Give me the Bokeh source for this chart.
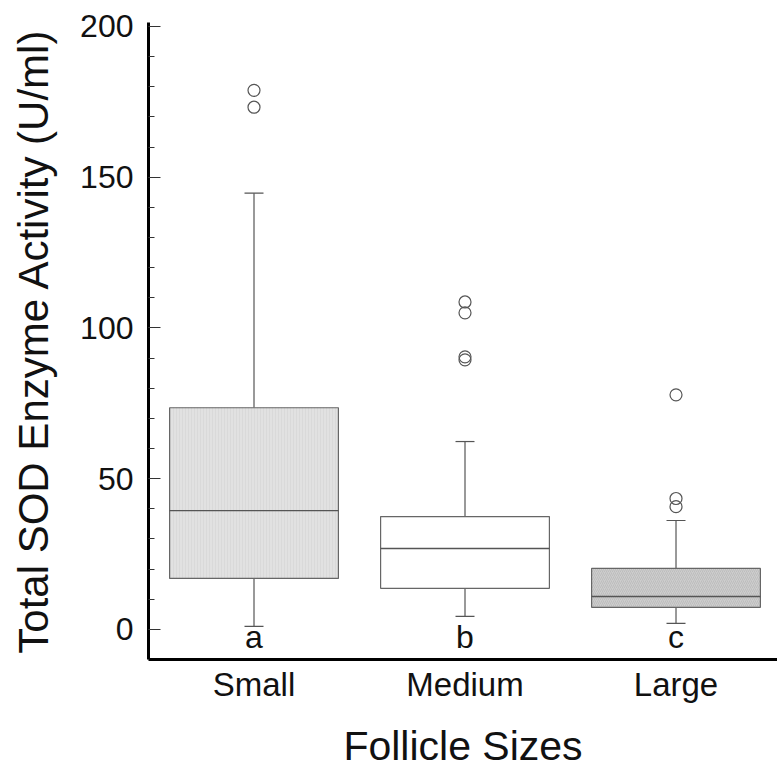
from bokeh.plotting import figure
from bokeh.models import Range1d, FixedTicker, ColumnDataSource
from bokeh.core.properties import value
from bokeh.embed import file_html
from bokeh.resources import INLINE

# ---- data ----
categories = ["Small", "Medium", "Large"]
q1 = [16.9, 13.6, 7.3]
median = [39.4, 26.8, 10.9]
q3 = [73.5, 37.4, 20.2]
whisker_low = [1.0, 4.3, 2.0]
whisker_high = [144.7, 62.3, 36.1]
outliers_small = [173.2, 178.8]
outliers_medium = [89.4, 90.4, 105.0, 108.6]
outliers_large = [40.7, 43.4, 77.8]
letters = ["a", "b", "c"]
y_ticks = [0, 50, 100, 150, 200]

FONT = "Liberation Sans"
xs = [i + 0.5 for i in range(len(categories))]
box_w = 0.8
cap_w = 0.09

p = figure(width=777, height=771, output_backend="svg", toolbar_location=None,
           x_range=Range1d(0, 2.981), y_range=Range1d(-10, 201.3),
           min_border_left=148, min_border_top=22, min_border_right=0,
           min_border_bottom=0, background_fill_color="white",
           border_fill_color="white", outline_line_color=None)
p.grid.visible = False

fills = ["#e1e1e1", "#ffffff", "#cdcdcd"]
hatches = ["vertical_line", " ", "right_diagonal_line"]
hatch_cols = ["#d9d9d9", "#ffffff", "#bdbdbd"]
hatch_scales = [3, 3, 4]

src = ColumnDataSource(dict(x=xs, q1=q1, q3=q3, med=median, lo=whisker_low, hi=whisker_high,
                            fill=fills, hatch=hatches, hcol=hatch_cols, hscale=hatch_scales))

# whiskers
p.segment(x0="x", y0="q3", x1="x", y1="hi", source=src, line_color="#555555", line_width=1.2)
p.segment(x0="x", y0="q1", x1="x", y1="lo", source=src, line_color="#555555", line_width=1.2)
cap_left = [x - cap_w / 2 for x in xs]
cap_right = [x + cap_w / 2 for x in xs]
p.segment(x0=cap_left, y0=whisker_high, x1=cap_right, y1=whisker_high, line_color="#555555", line_width=1.2)
p.segment(x0=cap_left, y0=whisker_low, x1=cap_right, y1=whisker_low, line_color="#555555", line_width=1.2)

# boxes
p.vbar(x="x", width=box_w, bottom="q1", top="q3", source=src, fill_color="fill",
       hatch_pattern="hatch", hatch_color="hcol", hatch_scale="hscale", hatch_weight=1,
       line_color="#666666", line_width=1.2)
# medians
p.segment(x0=[x - box_w / 2 for x in xs], y0=median, x1=[x + box_w / 2 for x in xs], y1=median,
          line_color="#555555", line_width=1.4)

# outliers
out_x, out_y = [], []
for x, vals in zip(xs, [outliers_small, outliers_medium, outliers_large]):
    out_x += [x] * len(vals)
    out_y += vals
p.scatter(out_x, out_y, marker="circle", size=12, fill_color=None, line_color="#555555", line_width=1.2)

# significance letters
p.text(x=xs, y=[-2.6] * 3, text=letters, text_align="center", text_baseline="alphabetic",
       text_font=value(FONT), text_font_size="32px", text_color="#111111")

# axes
xa = p.xaxis[0]
xa.ticker = FixedTicker(ticks=xs)
xa.major_label_overrides = {x: c for x, c in zip(xs, categories)}
xa.major_tick_line_color = None
xa.minor_tick_line_color = None
xa.axis_line_width = 3
xa.axis_line_color = "black"
xa.major_label_text_font = FONT
xa.major_label_text_font_size = "33px"
xa.major_label_text_color = "#111111"
xa.major_label_standoff = 0
xa.axis_label = "Follicle Sizes"
xa.axis_label_text_font = FONT
xa.axis_label_text_font_size = "41px"
xa.axis_label_text_font_style = "normal"
xa.axis_label_text_color = "#111111"
xa.axis_label_standoff = 17

ya = p.yaxis[0]
ya.ticker = FixedTicker(ticks=y_ticks, minor_ticks=list(range(0, 201, 10)))
ya.major_tick_in = 12
ya.major_tick_out = 0
ya.minor_tick_in = 6
ya.minor_tick_out = 0
ya.major_tick_line_color = "#333333"
ya.minor_tick_line_color = "#333333"
ya.axis_line_width = 3
ya.axis_line_color = "black"
ya.major_label_text_font = FONT
ya.major_label_text_font_size = "32px"
ya.major_label_text_color = "#111111"
ya.major_label_standoff = 15
ya.axis_label = "Total SOD Enzyme Activity (U/ml)"
ya.axis_label_text_font = FONT
ya.axis_label_text_font_size = "42px"
ya.axis_label_text_font_style = "normal"
ya.axis_label_text_color = "#111111"
ya.axis_label_standoff = 20

open("out.html", "w").write(file_html(p, INLINE))
